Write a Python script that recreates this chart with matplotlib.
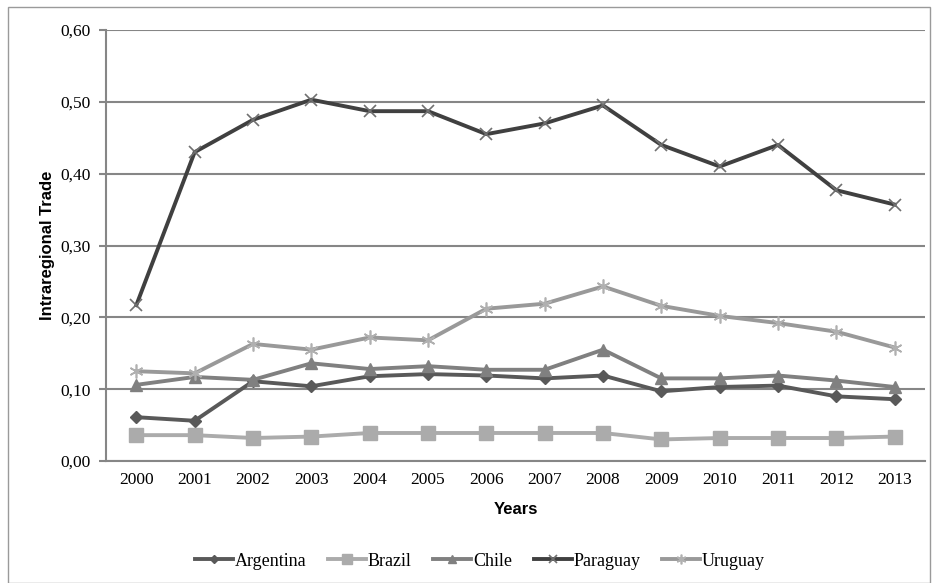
import matplotlib.pyplot as plt
from matplotlib.patches import Rectangle
from matplotlib.ticker import FuncFormatter

# dados
anos = [2000, 2001, 2002, 2003, 2004, 2005, 2006, 2007, 2008, 2009, 2010, 2011, 2012, 2013]
argentina = [0.061, 0.056, 0.111, 0.104, 0.118, 0.121, 0.119, 0.115, 0.119, 0.097, 0.103, 0.105, 0.090, 0.086]
brazil = [0.036, 0.036, 0.032, 0.034, 0.039, 0.039, 0.039, 0.039, 0.039, 0.030, 0.032, 0.032, 0.032, 0.034]
chile = [0.106, 0.117, 0.113, 0.136, 0.128, 0.132, 0.127, 0.127, 0.155, 0.115, 0.115, 0.119, 0.112, 0.103]
paraguay = [0.217, 0.430, 0.475, 0.503, 0.487, 0.487, 0.455, 0.470, 0.495, 0.440, 0.410, 0.440, 0.377, 0.357]
uruguay = [0.125, 0.122, 0.163, 0.155, 0.172, 0.168, 0.212, 0.219, 0.243, 0.216, 0.202, 0.192, 0.180, 0.158]

fig = plt.figure(figsize=(9.36, 5.83), dpi=100)
fig.patches.append(Rectangle((8/936, 0), 922/936, 1 - 7/583, transform=fig.transFigure,
                             fill=False, edgecolor='#9a9a9a', lw=1))
ax = fig.add_axes([106/936, 1 - 461/583, 819/936, 431/583])

x = list(range(len(anos)))
ax.plot(x, argentina, color='#595959', lw=2.8, marker='D', ms=6, label='Argentina')
ax.plot(x, brazil, color='#ababab', lw=2.8, marker='s', ms=10, label='Brazil')
ax.plot(x, chile, color='#808080', lw=2.8, marker='^', ms=9, label='Chile')
ax.plot(x, paraguay, color='#404040', lw=2.8, marker='x', ms=8, mew=1.2, mec='#707070', label='Paraguay')
ax.plot(x, uruguay, color='#999999', lw=2.8, marker=(6, 2, 0), ms=10, mew=1.2, mec='#b0b0b0', label='Uruguay')

ax.set_xlim(-0.52, len(anos) - 0.48)
ax.set_ylim(0, 0.6)
ax.set_yticks([0, 0.1, 0.2, 0.3, 0.4, 0.5, 0.6])
ax.yaxis.set_major_formatter(FuncFormatter(lambda v, p: f'{v:.2f}'.replace('.', ',')))
ax.set_xticks(x)
ax.set_xticklabels([str(a) for a in anos])
ax.grid(axis='y', color='#868686', lw=1.5)
ax.set_axisbelow(True)
for s in ['top', 'right']:
    ax.spines[s].set_visible(False)
ax.spines['left'].set_color('#868686')
ax.spines['bottom'].set_color('#868686')
ax.spines['left'].set_linewidth(1.5)
ax.spines['bottom'].set_linewidth(1.5)
ax.tick_params(axis='y', length=5, color='#868686', width=1.5, labelsize=12.5, pad=6)
ax.tick_params(axis='x', length=0, labelsize=12.5, pad=8)
for t in ax.get_xticklabels() + ax.get_yticklabels():
    t.set_family('Liberation Serif')

ax.set_ylabel('Intraregional Trade', fontsize=12, fontweight='bold', family='Liberation Sans', labelpad=4)
ax.set_xlabel('Years', fontsize=12, fontweight='bold', family='Liberation Sans', labelpad=10)

# legenda embaixo, sem moldura
fig.legend(loc='center', bbox_to_anchor=(480/936, 1 - 561/583), ncol=5, frameon=False,
           prop={'family': 'Liberation Serif', 'size': 13}, handlelength=2.1, columnspacing=1.2,
           handletextpad=0.1, markerscale=0.7)

fig.savefig('out.png', dpi=100)
